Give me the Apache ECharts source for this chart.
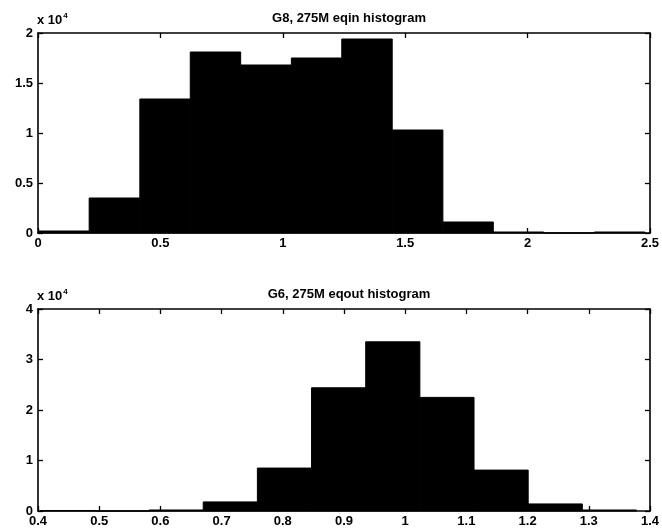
<!DOCTYPE html>
<html>
<head>
<meta charset="utf-8">
<script src="https://cdn.jsdelivr.net/npm/echarts@6/dist/echarts.min.js"></script>
<style>
html,body{margin:0;padding:0;background:#fff;}
#chart{width:662px;height:532px;}
</style>
</head>
<body>
<div id="chart"></div>
<script>
// ---- data ----
const topTitle = 'G8, 275M eqin histogram';
const bottomTitle = 'G6, 275M eqout histogram';
// bin edges (x) and counts (y) of the first histogram
const topEdges = [0.003, 0.209, 0.416, 0.622, 0.828, 1.035, 1.241, 1.447, 1.654, 1.860, 2.066, 2.273, 2.479];
const topCounts = [200, 3500, 13400, 18100, 16800, 17500, 19400, 10300, 1100, 100, 0, 100];
// bin edges and counts of the second histogram
const bottomEdges = [0.4045, 0.493, 0.5815, 0.670, 0.7585, 0.847, 0.9355, 1.024, 1.1125, 1.201, 1.2895, 1.378];
const bottomCounts = [100, 0, 200, 1800, 8500, 24400, 33500, 22500, 8100, 1400, 200];
// axis ticks
const topXTicks = [0, 0.5, 1, 1.5, 2, 2.5];
const topYTicks = [0, 5000, 10000, 15000, 20000];
const bottomXTicks = [0.4, 0.5, 0.6, 0.7, 0.8, 0.9, 1, 1.1, 1.2, 1.3, 1.4];
const bottomYTicks = [0, 10000, 20000, 30000, 40000];
const yMultiplier = 10000;

// ---- chart ----
const FONT = 'Liberation Sans';
const chart = echarts.init(document.getElementById('chart'), null, {renderer: 'canvas'});

function toBins(edges, counts) {
  return counts.map((c, i) => [edges[i], edges[i + 1], c]);
}
function renderBar(params, api) {
  const p0 = api.coord([api.value(0), api.value(2)]);
  const p1 = api.coord([api.value(1), 0]);
  return {
    type: 'rect',
    shape: {x: p0[0], y: p0[1], width: p1[0] - p0[0], height: p1[1] - p0[1]},
    style: {fill: '#000', stroke: '#000', lineWidth: 1}
  };
}
const fmtX = v => String(+(+v).toFixed(2));
const fmtY = v => String(+(v / yMultiplier).toFixed(2));

function xAxes(gridIndex, ticks) {
  const base = {
    gridIndex, type: 'value',
    min: ticks[0], max: ticks[ticks.length - 1],
    interval: +(ticks[1] - ticks[0]).toFixed(4),
    splitLine: {show: false},
    axisLine: {show: true, onZero: false, lineStyle: {color: '#000', width: 1.6}},
    axisTick: {show: true, inside: true, length: 5, lineStyle: {color: '#000', width: 1.3}}
  };
  return [
    Object.assign({}, base, {
      position: 'bottom',
      axisLabel: {show: true, color: '#000', fontFamily: FONT, fontWeight: 'bold', fontSize: 13, margin: 4, formatter: fmtX}
    }),
    Object.assign({}, base, {position: 'top', axisLabel: {show: false}})
  ];
}
function yAxes(gridIndex, ticks) {
  const base = {
    gridIndex, type: 'value',
    min: ticks[0], max: ticks[ticks.length - 1],
    interval: ticks[1] - ticks[0],
    splitLine: {show: false},
    axisLine: {show: true, onZero: false, lineStyle: {color: '#000', width: 1.6}},
    axisTick: {show: true, inside: true, length: 5, lineStyle: {color: '#000', width: 1.3}}
  };
  return [
    Object.assign({}, base, {
      position: 'left',
      name: '{a|x 10}{b|4}',
      nameLocation: 'end',
      nameGap: 4,
      nameTextStyle: {
        align: 'left', verticalAlign: 'bottom', padding: [0, 0, 0, -1],
        rich: {
          a: {fontFamily: FONT, fontWeight: 'bold', fontSize: 13, color: '#000'},
          b: {fontFamily: FONT, fontWeight: 'bold', fontSize: 8, color: '#000', verticalAlign: 'top', padding: [0, 0, 9, 1]}
        }
      },
      axisLabel: {show: true, color: '#000', fontFamily: FONT, fontWeight: 'bold', fontSize: 13, margin: 5, formatter: fmtY}
    }),
    Object.assign({}, base, {position: 'right', axisLabel: {show: false}})
  ];
}

const option = {
  backgroundColor: '#fff',
  animation: false,
  title: [
    {text: topTitle, left: 344, top: 7, textAlign: 'center',
     textStyle: {fontFamily: FONT, fontWeight: 'bold', fontSize: 13, color: '#000'}},
    {text: bottomTitle, left: 344, top: 283, textAlign: 'center',
     textStyle: {fontFamily: FONT, fontWeight: 'bold', fontSize: 13, color: '#000'}}
  ],
  grid: [
    {left: 38, top: 33, width: 612, height: 200},
    {left: 38, top: 309, width: 612, height: 202}
  ],
  xAxis: [...xAxes(0, topXTicks), ...xAxes(1, bottomXTicks)],
  yAxis: [...yAxes(0, topYTicks), ...yAxes(1, bottomYTicks)],
  series: [
    {type: 'custom', xAxisIndex: 0, yAxisIndex: 0, renderItem: renderBar,
     encode: {x: [0, 1], y: 2}, data: toBins(topEdges, topCounts)},
    {type: 'custom', xAxisIndex: 2, yAxisIndex: 2, renderItem: renderBar,
     encode: {x: [0, 1], y: 2}, data: toBins(bottomEdges, bottomCounts)}
  ]
};
chart.setOption(option);
</script>
</body>
</html>
